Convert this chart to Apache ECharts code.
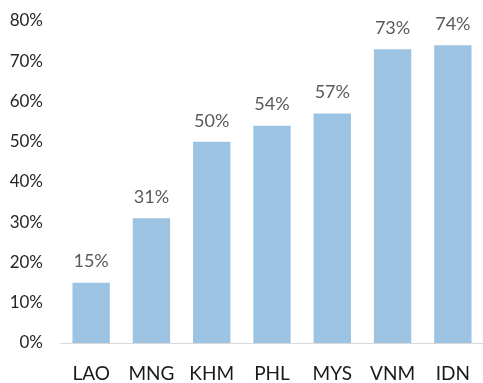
<!DOCTYPE html>
<html>
<head>
<meta charset="utf-8">
<script src="https://cdn.jsdelivr.net/npm/echarts@6/dist/echarts.min.js"></script>
<style>
  html, body { margin: 0; padding: 0; background: #fff; }
  #chart { width: 483px; height: 383px; }
</style>
</head>
<body>
<div id="chart"></div>
<script>
// Country codes along the x axis
const countries = ['LAO', 'MNG', 'KHM', 'PHL', 'MYS', 'VNM', 'IDN'];
// Share per country, in percent
const shares = [15, 31, 50, 54, 57, 73, 74];
// Y axis range and step, in percent
const yMin = 0;
const yMax = 80;
const yStep = 10;

const font = 'Lato, "Open Sans", sans-serif';
const chart = echarts.init(document.getElementById('chart'), null, { renderer: 'canvas' });

chart.setOption({
  animation: false,
  grid: { left: 61, right: -7, top: 21, bottom: 40, containLabel: false },
  xAxis: {
    type: 'category',
    data: countries,
    axisLine: { show: true, lineStyle: { color: '#D9D9D9', width: 1 } },
    axisTick: { show: false },
    axisLabel: { color: '#1a1a1a', fontFamily: font, fontSize: 19, margin: 21 }
  },
  yAxis: {
    type: 'value',
    min: yMin,
    max: yMax,
    interval: yStep,
    axisLine: { show: false },
    axisTick: { show: false },
    splitLine: { show: false },
    axisLabel: {
      color: '#262626', fontFamily: font, fontSize: 17, margin: 18,
      formatter: v => v + '%'
    }
  },
  series: [{
    type: 'bar',
    data: shares,
    barWidth: '62%',
    itemStyle: { color: '#9DC3E2' },
    label: {
      show: true,
      position: 'top',
      distance: 12,
      color: '#595959',
      fontFamily: font,
      fontSize: 18,
      formatter: p => p.value + '%'
    }
  }]
});
</script>
</body>
</html>
